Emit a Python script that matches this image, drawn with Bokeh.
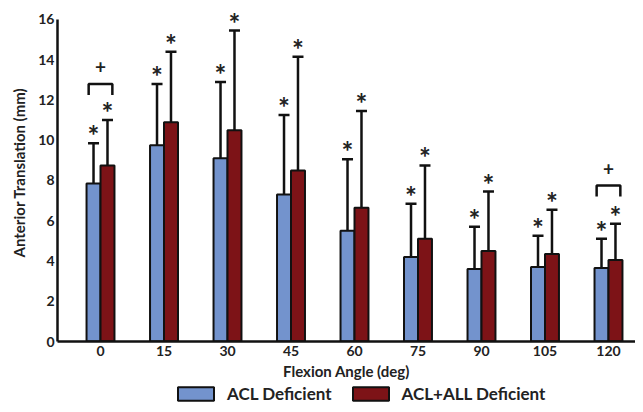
from bokeh.plotting import figure
from bokeh.layouts import column
from bokeh.models import (ColumnDataSource, Range1d, FixedTicker, Whisker, TeeHead,
                          Legend, LegendItem)
from bokeh.core.properties import value
from bokeh.embed import file_html
from bokeh.resources import INLINE

# ---- data ----
angles = [0, 15, 30, 45, 60, 75, 90, 105, 120]
acl_mean = [7.85, 9.75, 9.1, 7.3, 5.5, 4.2, 3.6, 3.7, 3.65]
acl_sd = [2.0, 3.05, 3.8, 3.95, 3.55, 2.65, 2.1, 1.55, 1.45]
all_mean = [8.75, 10.9, 10.5, 8.5, 6.65, 5.1, 4.5, 4.35, 4.05]
all_sd = [2.25, 3.5, 4.95, 5.65, 4.8, 3.65, 2.95, 2.2, 1.8]
tick_labels = [str(a) for a in angles]
y_ticks = [0, 2, 4, 6, 8, 10, 12, 14, 16]
series_names = ["ACL Deficient", "ACL+ALL Deficient"]
bracket_angles = [0, 120]
bracket_level = [12.8, 7.75]
bracket_leg = 0.55

BLUE = "#7393cd"
RED = "#7d1317"
INK = "#111111"
off = 1.65      # half-bar offset in degrees
bw = 3.3        # bar width in degrees
half_br = 2.8   # half bracket width

acl = ColumnDataSource(dict(
    x=[a - off for a in angles], mean=acl_mean,
    top=[m + s for m, s in zip(acl_mean, acl_sd)],
    star=["*"] * len(angles)))
alld = ColumnDataSource(dict(
    x=[a + off for a in angles], mean=all_mean,
    top=[m + s for m, s in zip(all_mean, all_sd)],
    star=["*"] * len(angles)))

p = figure(width=635, height=384, output_backend="svg", toolbar_location=None,
           x_range=Range1d(-10.16, 126.38), y_range=Range1d(0, 16.795),
           min_border_left=57, min_border_right=0, min_border_top=3,
           min_border_bottom=43)
p.outline_line_color = None
p.grid.visible = False
p.background_fill_color = "white"

# error bars (upper only)
for src in (acl, alld):
    w = Whisker(source=src, base="x", upper="top", lower="mean",
                lower_head=None,
                upper_head=TeeHead(size=11, line_width=2.5, line_color=INK),
                line_width=2.5, line_color=INK, level="underlay")
    p.add_layout(w)

bar_style = dict(line_color=INK, line_width=2)
p.vbar(x="x", top="mean", bottom=0, width=bw, source=acl, fill_color=BLUE, **bar_style)
p.vbar(x="x", top="mean", bottom=0, width=bw, source=alld, fill_color=RED, **bar_style)

# asterisks
for src in (acl, alld):
    p.text(x="x", y="top", text="star", source=src, text_align="center",
           text_baseline="alphabetic", y_offset=-8,
           text_font=value("Lato"), text_font_style="bold",
           text_font_size="28px", text_color="#222222")

# significance brackets
bx = [[a - half_br, a - half_br, a + half_br, a + half_br] for a in bracket_angles]
by = [[l - bracket_leg, l, l, l - bracket_leg] for l in bracket_level]
p.multi_line(xs=bx, ys=by, line_color=INK, line_width=2.5)
p.text(x=bracket_angles, y=bracket_level, text=["+", "+"], text_align="center",
       text_baseline="alphabetic", y_offset=-17, text_font=value("Lato"),
       text_font_style="bold", text_font_size="19px", text_color="#222222")

# axes
p.xaxis.ticker = FixedTicker(ticks=angles)
p.xaxis.major_label_overrides = {a: t for a, t in zip(angles, tick_labels)}
p.yaxis.ticker = FixedTicker(ticks=y_ticks)
p.yaxis.bounds = (0, 16)
for ax in (p.xaxis, p.yaxis):
    ax.axis_line_width = 2.5
    ax.axis_line_color = INK
    ax.major_tick_in = 0
    ax.major_tick_out = 0
    ax.minor_tick_line_color = None
    ax.major_label_text_font = "Lato"
    ax.major_label_text_font_style = "bold"
    ax.major_label_text_font_size = "14px"
    ax.major_label_text_color = "#222222"
    ax.axis_label_text_font = "Lato"
    ax.axis_label_text_font_style = "bold"
    ax.axis_label_text_font_size = "15px"
    ax.axis_label_text_color = "#222222"
p.xaxis.axis_label = "Flexion Angle (deg)"
p.yaxis.axis_label = "Anterior Translation (mm)"
p.xaxis.major_label_standoff = 4
p.yaxis.major_label_standoff = 3
p.xaxis.axis_label_standoff = 3
p.yaxis.axis_label_standoff = 7

# legend strip below the chart (hidden copies of the bars supply the swatches)
p2 = figure(width=635, height=20, output_backend="svg", toolbar_location=None,
            x_range=Range1d(-10.16, 126.38), y_range=Range1d(0, 1),
            x_axis_location=None, y_axis_location=None,
            min_border_left=57, min_border_right=0, min_border_top=0,
            min_border_bottom=0)
p2.outline_line_color = None
p2.grid.visible = False
g1 = p2.vbar(x="x", top="mean", bottom=0, width=bw, source=acl, fill_color=BLUE,
             visible=False, **bar_style)
g2 = p2.vbar(x="x", top="mean", bottom=0, width=bw, source=alld, fill_color=RED,
             visible=False, **bar_style)
legend = Legend(items=[LegendItem(label=series_names[0], renderers=[g1], index=0),
                       LegendItem(label=series_names[1], renderers=[g2], index=0)],
                orientation="horizontal", location=(116, 0),
                glyph_width=45, glyph_height=17, label_height=20,
                label_standoff=9, spacing=16, padding=0, margin=0,
                inactive_fill_alpha=0,
                border_line_color=None, background_fill_alpha=0,
                label_text_font="Lato", label_text_font_style="bold",
                label_text_font_size="17px", label_text_color="#222222")
p2.add_layout(legend, "center")

open("out.html", "w").write(file_html(column(p, p2), INLINE))
